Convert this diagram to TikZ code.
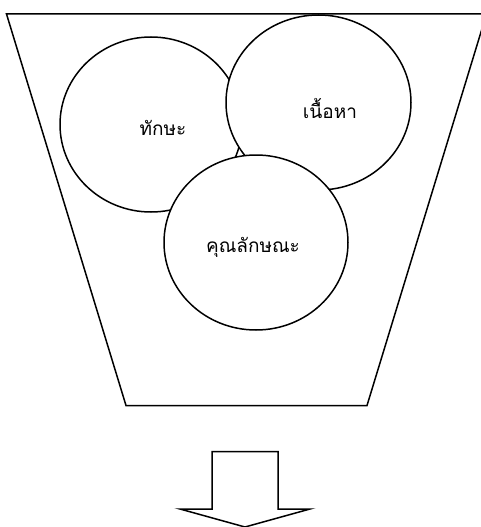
\documentclass[tikz,border=0pt]{standalone}
\usepackage{fontspec}
\newfontfamily\thaifont[Script=Thai]{Loma}
\usetikzlibrary{shapes.geometric}
\tikzset{
  outline/.style={draw=black, line width=1.5pt, line join=miter},
  bubble/.style={ellipse, outline, fill=white, inner sep=0pt},
  label/.style={font=\thaifont\fontsize{19}{22}\selectfont, inner sep=0pt}
}
\begin{document}
\begin{tikzpicture}[x=1pt,y=-1pt]
\useasboundingbox (0,0) rectangle (480,527);
% funnel
\draw[outline] (6.5,14) -- (486.5,14) -- (367,405.5) -- (126,405.5) -- cycle;
% circles
\node[bubble, minimum width=182, minimum height=175] (skill) at (151,124.5) {};
\node[bubble, minimum width=185, minimum height=175] (content) at (318.5,102.5) {};
\node[bubble, minimum width=184, minimum height=175] (attr) at (256,242.5) {};
\node[label] (tskill) at (163,128) {ทักษะ};
\node[label] (tcontent) at (330,108) {เนื้อหา};
\node[label] (tattr) at (253,247) {คุณลักษณะ};
% arrow
\draw[outline, fill=white] (212,451.5) -- (278,451.5) -- (278,509) -- (310,509) -- (245,527) -- (180,509) -- (212,509) -- cycle;
\end{tikzpicture}
\end{document}
